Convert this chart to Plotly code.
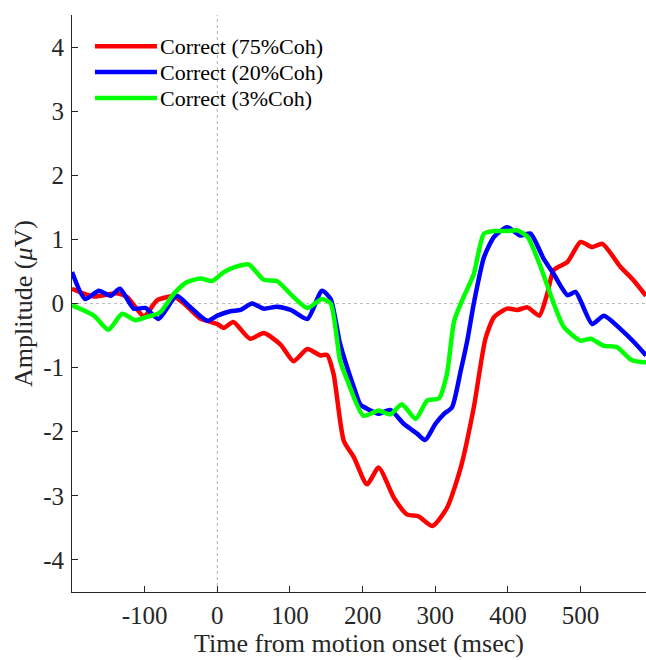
import plotly.graph_objects as go

# Red: Correct (75%Coh)
t_red = [-200, -170, -138, -124, -101, -83, -60, -46, -23, -14, 0, 9, 22, 45, 64, 87, 105, 124, 142, 151, 160,
         174, 188, 206, 222, 243, 261, 277, 296, 316, 335, 353, 369, 381, 399, 413, 427, 443, 454, 463,
         482, 500, 516, 530, 555, 573, 590]
v_red = [0.23, 0.11, 0.16, 0.10, -0.20, 0.05, 0.11, 0.0, -0.24, -0.27, -0.32, -0.38, -0.29, -0.55, -0.46, -0.64, -0.90, -0.71, -0.81, -0.80, -1.10,
         -2.14, -2.40, -2.82, -2.56, -3.03, -3.29, -3.32, -3.47, -3.19, -2.56, -1.62, -0.55, -0.21, -0.08, -0.10, -0.06, -0.19, 0.15, 0.52,
         0.65, 0.96, 0.88, 0.93, 0.57, 0.36, 0.12]

# Blue: Correct (20%Coh)
t_blue = [-200, -182, -163, -147, -134, -115, -99, -81, -56, -37, -14, 0, 18, 32, 48, 64, 82, 101, 124, 144, 156, 169,
          188, 197, 206, 222, 238, 257, 275, 286, 300, 312, 323, 335, 344, 353, 367, 381, 399, 417, 431, 449,
          463, 482, 493, 516, 532, 555, 575, 590]
v_blue = [0.49, 0.07, 0.20, 0.12, 0.23, -0.08, -0.07, -0.24, 0.12, -0.06, -0.27, -0.19, -0.12, -0.10, 0.0, -0.08, -0.05, -0.10, -0.24, 0.20, 0.07, -0.63,
          -1.31, -1.58, -1.64, -1.72, -1.66, -1.88, -2.03, -2.13, -1.88, -1.72, -1.62, -1.05, -0.58, 0.0, 0.72, 1.04, 1.19, 1.06, 1.09, 0.70,
          0.46, 0.13, 0.18, -0.32, -0.19, -0.40, -0.62, -0.81]

# Green: Correct (3%Coh)
t_green = [-200, -170, -150, -131, -113, -97, -79, -60, -42, -23, -7, 9, 25, 43, 64, 82, 105, 124, 144, 156, 169,
           179, 201, 222, 238, 254, 273, 289, 305, 316, 326, 339, 353, 367, 381, 399, 413, 427, 445, 463,
           477, 500, 514, 532, 550, 570, 590]
v_green = [-0.03, -0.19, -0.41, -0.16, -0.26, -0.21, -0.14, 0.15, 0.33, 0.39, 0.35, 0.49, 0.57, 0.61, 0.37, 0.35, 0.10, -0.07, 0.07, 0.0, -0.89,
           -1.20, -1.75, -1.67, -1.73, -1.57, -1.80, -1.51, -1.48, -1.10, -0.27, 0.10, 0.46, 1.09, 1.13, 1.13, 1.14, 1.04, 0.57, 0.0,
           -0.37, -0.58, -0.55, -0.66, -0.68, -0.88, -0.92]

names = ["Correct (75%Coh)", "Correct (20%Coh)", "Correct (3%Coh)"]
colors = ["#ff0000", "#0000ff", "#00ff00"]
times = [t_red, t_blue, t_green]
values = [v_red, v_blue, v_green]

x_ticks = [-100, 0, 100, 200, 300, 400, 500]
x_ticktext = ["-100", "0", "100", "200", "300", "400", "500"]
y_ticks = [-4, -3, -2, -1, 0, 1, 2, 3, 4]
y_ticktext = ["-4", "-3", "-2", "-1", "0", "1", "2", "3", "4"]

font_family = "Liberation Serif, Times New Roman, serif"
axis_color = "#262626"

fig = go.Figure()
for name, t, v, c in zip(names, times, values, colors):
    fig.add_trace(go.Scatter(x=t, y=v, mode="lines", name=name, showlegend=False,
                             line=dict(color=c, width=4.5, shape="spline", smoothing=0.6)))

# dotted reference lines at 0
fig.add_shape(type="line", xref="x", yref="paper", x0=0, x1=0, y0=0, y1=1,
              line=dict(color="#bdbdbd", width=1.2, dash="dot"), layer="below")
fig.add_shape(type="line", xref="paper", yref="y", x0=0, x1=1, y0=0, y1=0,
              line=dict(color="#bdbdbd", width=1.2, dash="dot"), layer="below")

# legend (MATLAB style, long line samples)
leg_y = [0.946, 0.901, 0.856]
for name, c, ly in zip(names, colors, leg_y):
    fig.add_shape(type="line", xref="paper", yref="paper", x0=0.040, x1=0.148, y0=ly, y1=ly,
                  line=dict(color=c, width=4.5))
    fig.add_annotation(xref="paper", yref="paper", x=0.150, y=ly, text=name, showarrow=False,
                       xanchor="left", yanchor="middle",
                       font=dict(family=font_family, size=22, color="#000000"))

fig.update_layout(
    width=646, height=660,
    margin=dict(l=72, r=0, t=15, b=68),
    paper_bgcolor="white", plot_bgcolor="white",
    font=dict(family=font_family, color=axis_color, size=25),
    showlegend=False,
    xaxis=dict(range=[-200, 590], tickvals=x_ticks, ticktext=x_ticktext, ticks="inside", ticklen=6,
               tickcolor=axis_color, showline=True, linecolor=axis_color, linewidth=1,
               showgrid=False, zeroline=False, tickfont=dict(size=25), ticklabelstandoff=1,
               title=dict(text="Time from motion onset (msec)", font=dict(size=26), standoff=5)),
    yaxis=dict(range=[-4.5, 4.5], tickvals=y_ticks, ticktext=y_ticktext, ticks="inside", ticklen=6,
               tickcolor=axis_color, showline=True, linecolor=axis_color, linewidth=1,
               showgrid=False, zeroline=False, tickfont=dict(size=25), ticklabelstandoff=2,
               title=dict(text="Amplitude (<i>\u03bc</i>V)", font=dict(size=26), standoff=3)),
)

fig.write_html("out.html")
